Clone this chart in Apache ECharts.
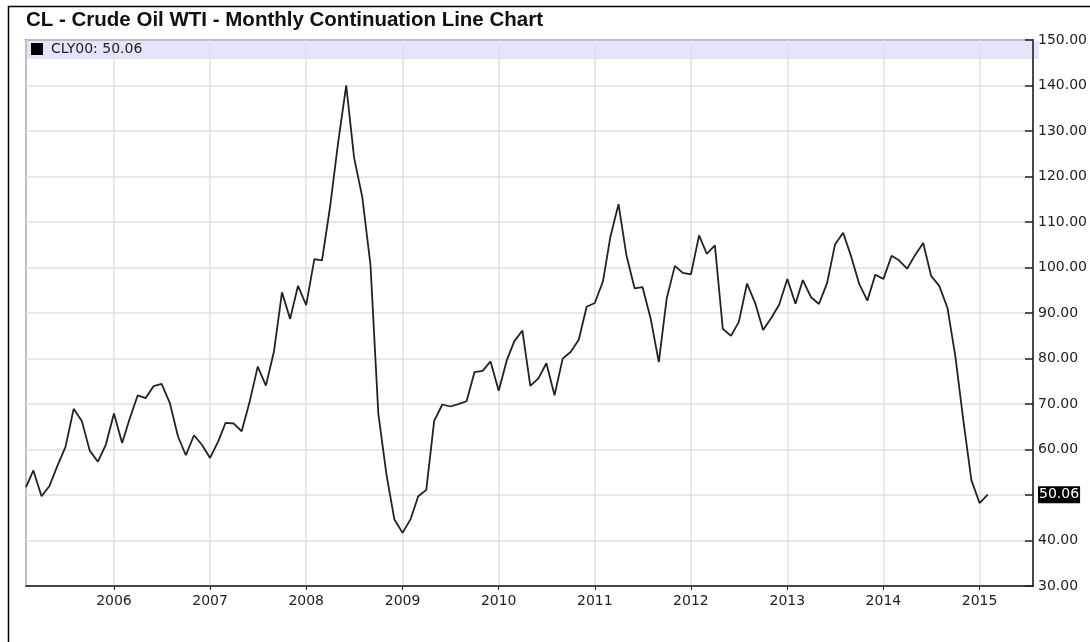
<!DOCTYPE html>
<html>
<head>
<meta charset="utf-8">
<title>CL - Crude Oil WTI</title>
<script src="https://cdn.jsdelivr.net/npm/echarts@6/dist/echarts.min.js"></script>
<style>
  html, body { margin: 0; padding: 0; background: #fff; }
  #chart { width: 1090px; height: 642px; }
</style>
</head>
<body>
<div id="chart"></div>
<script>
// Monthly continuation closes (first point is Feb 2005)
const symbol = 'CLY00';
const firstYear = 2005;
const firstMonth = 2;
const axisStart = '2005-02-01';
const axisEnd = '2015-07-23';

const closes2005 = [51.75, 55.40, 49.72, 51.97, 56.50, 60.57, 68.94, 66.24, 59.76, 57.32, 61.04];
const closes2006 = [67.92, 61.41, 66.63, 71.88, 71.29, 73.93, 74.40, 70.26, 62.91, 58.73, 63.13, 61.05];
const closes2007 = [58.14, 61.79, 65.87, 65.71, 64.01, 70.68, 78.21, 74.04, 81.66, 94.53, 88.71, 95.98];
const closes2008 = [91.75, 101.84, 101.58, 113.46, 127.35, 140.00, 124.08, 115.46, 100.64, 67.81, 54.43, 44.60];
const closes2009 = [41.68, 44.76, 49.66, 51.12, 66.31, 69.89, 69.45, 69.96, 70.61, 77.00, 77.28, 79.36];
const closes2010 = [72.89, 79.66, 83.76, 86.15, 73.97, 75.63, 78.95, 71.92, 79.97, 81.43, 84.11, 91.38];
const closes2011 = [92.19, 96.97, 106.72, 113.93, 102.70, 95.42, 95.70, 88.81, 79.20, 93.19, 100.36, 98.83];
const closes2012 = [98.48, 107.07, 103.02, 104.87, 86.53, 84.96, 88.06, 96.47, 92.19, 86.24, 88.91, 91.82];
const closes2013 = [97.49, 92.05, 97.23, 93.46, 91.97, 96.56, 105.03, 107.65, 102.33, 96.38, 92.72, 98.42];
const closes2014 = [97.49, 102.59, 101.58, 99.74, 102.71, 105.37, 98.17, 95.96, 91.16, 80.54, 66.15, 53.27];
const closes2015 = [48.24, 50.06];

const yMin = 30, yMax = 150, yStep = 10;

const closes = [].concat(closes2005, closes2006, closes2007, closes2008, closes2009,
    closes2010, closes2011, closes2012, closes2013, closes2014, closes2015);
const lastClose = closes[closes.length - 1];

// pair each close with the first day of its month
const points = closes.map((v, i) => {
    const m = firstMonth - 1 + i;
    const y = firstYear + Math.floor(m / 12);
    return [y + '-' + String((m % 12) + 1).padStart(2, '0') + '-01', v];
});

const font = 'DejaVu Sans';
const ONE_YEAR = 365 * 24 * 3600 * 1000;
const chart = echarts.init(document.getElementById('chart'));

chart.setOption({
    animation: false,
    backgroundColor: '#fff',
    title: {
        text: 'CL - Crude Oil WTI - Monthly Continuation Line Chart',
        left: 26,
        top: 10,
        padding: 0,
        textStyle: { fontFamily: 'Liberation Sans', fontSize: 20.5, fontWeight: 'bold', color: '#111' }
    },
    legend: {
        data: [symbol],
        left: 31,
        top: 42,
        padding: 0,
        icon: 'rect',
        itemWidth: 12,
        itemHeight: 12,
        selectedMode: false,
        formatter: name => name + ': ' + lastClose.toFixed(2),
        textStyle: { fontFamily: font, fontSize: 14, color: '#222', padding: [0, 0, 0, 3] }
    },
    graphic: [
        // lavender band holding the legend
        { type: 'rect', z: -1, shape: { x: 27, y: 41, width: 1012, height: 18 },
          style: { fill: '#e4e4fa' }, silent: true },
        // outer frame
        { type: 'rect', shape: { x: 8.5, y: 6.5, width: 1200, height: 800 },
          style: { fill: 'none', stroke: '#000', lineWidth: 1.5 }, silent: true }
    ],
    grid: {
        left: 26,
        right: 50,
        top: 40,
        bottom: 56,
        show: true,
        borderColor: '#222',
        borderWidth: 1.5
    },
    xAxis: {
        type: 'time',
        min: axisStart,
        max: axisEnd,
        minInterval: ONE_YEAR,
        maxInterval: ONE_YEAR * 1.01,
        splitNumber: 10,
        axisLine: { show: true, lineStyle: { color: '#222', width: 1.5 } },
        axisTick: { show: true, length: 4, lineStyle: { color: '#222' } },
        axisLabel: {
            formatter: v => String(new Date(v).getFullYear()),
            fontFamily: font, fontSize: 14, color: '#222', margin: 8,
            showMinLabel: false, showMaxLabel: false
        },
        splitLine: { show: true, lineStyle: { color: '#e0e0e0', width: 1.5 } }
    },
    yAxis: {
        type: 'value',
        position: 'right',
        min: yMin,
        max: yMax,
        interval: yStep,
        axisLine: { show: true, lineStyle: { color: '#222', width: 1.5 } },
        axisTick: { show: true, inside: true, length: 8, lineStyle: { color: '#222', width: 1.5 } },
        axisLabel: {
            formatter: v => (v === 50 ? '' : v.toFixed(2)),
            fontFamily: font, fontSize: 14, color: '#222', margin: 5
        },
        splitLine: { show: true, lineStyle: { color: '#e0e0e0', width: 1.5 } }
    },
    series: [{
        name: symbol,
        type: 'line',
        data: points,
        showSymbol: false,
        color: '#000',
        lineStyle: { color: '#222', width: 1.8 },
        markLine: {
            silent: true,
            symbol: 'none',
            lineStyle: { color: 'transparent' },
            data: [{ yAxis: lastClose }],
            label: {
                position: 'end',
                distance: 5,
                formatter: () => lastClose.toFixed(2),
                backgroundColor: '#000',
                color: '#fff',
                fontFamily: font,
                fontSize: 14,
                padding: [2, 1, 1, 1]
            }
        }
    }]
});
</script>
</body>
</html>
